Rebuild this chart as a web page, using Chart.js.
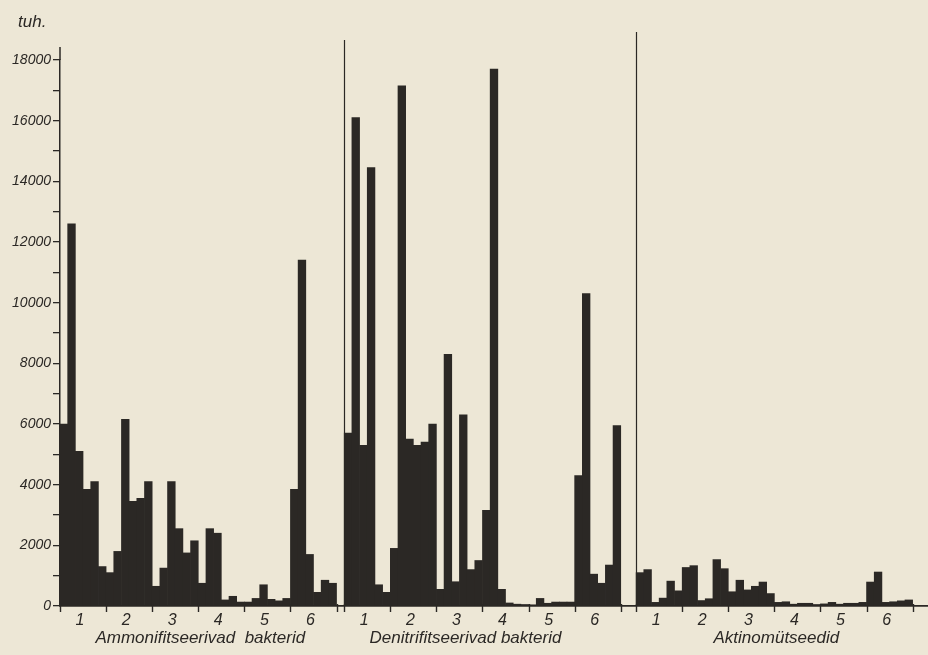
<!DOCTYPE html>
<html>
<head>
<meta charset="utf-8">
<script src="https://cdn.jsdelivr.net/npm/chart.js@4/dist/chart.umd.min.js"></script>
<style>
  html, body { margin: 0; padding: 0; background: #ede7d6; }
  #wrap { position: relative; width: 928px; height: 655px; }
  canvas { display: block; }
</style>
</head>
<body>
<div id="wrap"><canvas id="c" width="928" height="655"></canvas></div>
<script>
// Bacteria counts, thousands per gram of soil; six samples for each of six sites
const ammonifiers = [
  6000, 12600, 5100, 3850, 4100, 1300,
  1100, 1800, 6150, 3450, 3550, 4100,
  650, 1250, 4100, 2550, 1750, 2150,
  750, 2550, 2400, 200, 320, 130,
  130, 250, 700, 220, 170, 250,
  3850, 11400, 1700, 450, 850, 750
];
const denitrifiers = [
  5700, 16100, 5300, 14450, 700, 450,
  1900, 17150, 5500, 5300, 5400, 6000,
  550, 8300, 800, 6300, 1200, 1500,
  3150, 17700, 550, 100, 60, 50,
  40, 250, 90, 130, 130, 130,
  4300, 10300, 1050, 750, 1350, 5950
];
const actinomycetes = [
  1100, 1200, 120, 260, 820, 500,
  1270, 1330, 180, 240, 1530, 1230,
  470, 850, 530, 650, 790, 410,
  120, 140, 60, 90, 90, 50,
  70, 120, 60, 90, 90, 120,
  790, 1120, 120, 140, 170, 200
];
const groupNames = ['Ammonifitseerivad  bakterid', 'Denitrifitseerivad bakterid', 'Aktinomütseedid'];
const siteLabels = ['1', '2', '3', '4', '5', '6'];
const samplesPerSite = 6;
const yTicks = [0, 1000, 2000, 3000, 4000, 5000, 6000, 7000, 8000, 9000,
                10000, 11000, 12000, 13000, 14000, 15000, 16000, 17000, 18000];
const yLabelStep = 2000;
const unitLabel = 'tuh.';

// Empty slots between the three groups and after the last one
const groups = [ammonifiers, denitrifiers, actinomycetes];
const gapsAfter = [1, 2, 2];
const values = [];
const groupStarts = [];
groups.forEach((g, i) => {
  groupStarts.push(values.length);
  g.forEach(v => values.push(v));
  for (let k = 0; k < gapsAfter[i]; k++) values.push(null);
});
const labels = values.map((_, i) => String(i));

const ink = '#2b2825';
const FONT = "'Liberation Sans', Arial, sans-serif";

const decor = {
  id: 'decor',
  afterDraw(chart) {
    const { ctx, chartArea } = chart;
    const x = chart.scales.x;
    const half = (x.getPixelForValue(1) - x.getPixelForValue(0)) / 2;
    const leftEdge = i => x.getPixelForValue(i) - half;
    const base = chartArea.bottom;
    ctx.save();
    ctx.strokeStyle = ink;
    ctx.fillStyle = ink;

    // value axis runs a little above its top tick
    ctx.lineWidth = 1.5;
    ctx.beginPath();
    ctx.moveTo(chartArea.left, 47);
    ctx.lineTo(chartArea.left, chartArea.top);
    ctx.stroke();

    // separators in front of the second and third groups
    const sepTops = [null, 40, 32];
    groupStarts.forEach((s, gi) => {
      if (gi === 0) return;
      const px = Math.round(leftEdge(s)) + 0.5;
      ctx.lineWidth = 1.2;
      ctx.beginPath();
      ctx.moveTo(px, sepTops[gi]);
      ctx.lineTo(px, base);
      ctx.stroke();
    });

    // site ticks and numbers
    ctx.lineWidth = 1.4;
    ctx.textAlign = 'center';
    ctx.textBaseline = 'middle';
    groupStarts.forEach((s, gi) => {
      for (let k = 0; k <= siteLabels.length; k++) {
        const px = Math.round(leftEdge(s + k * samplesPerSite)) + 0.5;
        ctx.beginPath();
        ctx.moveTo(px, base - 2);
        ctx.lineTo(px, base + 6);
        ctx.stroke();
      }
      ctx.font = `italic 16px ${FONT}`;
      siteLabels.forEach((lab, k) => {
        const cx = leftEdge(s + k * samplesPerSite + samplesPerSite / 2);
        ctx.fillText(lab, cx - 3, base + 15);
      });
      // group title
      const gStart = leftEdge(s);
      const gEnd = leftEdge(s + groups[gi].length);
      const shifts = [2, -17, 2];
      ctx.font = `italic 17px ${FONT}`;
      ctx.fillText(groupNames[gi], (gStart + gEnd) / 2 + shifts[gi], base + 32);
    });

    // unit above the value axis
    ctx.textAlign = 'left';
    ctx.font = `italic 17px ${FONT}`;
    ctx.fillText(unitLabel, 18, 22);
    ctx.restore();
  }
};

new Chart(document.getElementById('c'), {
  type: 'bar',
  data: {
    labels,
    datasets: [{
      data: values,
      backgroundColor: ink,
      borderWidth: 0,
      barPercentage: 1,
      categoryPercentage: 1
    }]
  },
  options: {
    responsive: false,
    animation: false,
    layout: { padding: { top: 60, right: 0, left: 0, bottom: 0 } },
    plugins: { legend: { display: false }, tooltip: { enabled: false } },
    scales: {
      x: {
        grid: { display: false, drawTicks: false },
        ticks: { display: false },
        border: { display: true, color: ink, width: 1.8 },
        afterFit(s) { s.height = 49; }
      },
      y: {
        min: yTicks[0],
        max: yTicks[yTicks.length - 1],
        afterBuildTicks(s) { s.ticks = yTicks.map(v => ({ value: v })); },
        ticks: {
          autoSkip: false,
          padding: 2,
          color: ink,
          font: { family: FONT, style: 'italic', size: 14 },
          callback: v => (v % yLabelStep === 0) ? String(v) : ''
        },
        grid: { drawOnChartArea: false, tickLength: 7, color: ink, lineWidth: 1.3 },
        border: { color: ink, width: 1.5 },
        afterFit(s) { s.width = 60; }
      }
    }
  },
  plugins: [decor]
});
</script>
</body>
</html>
